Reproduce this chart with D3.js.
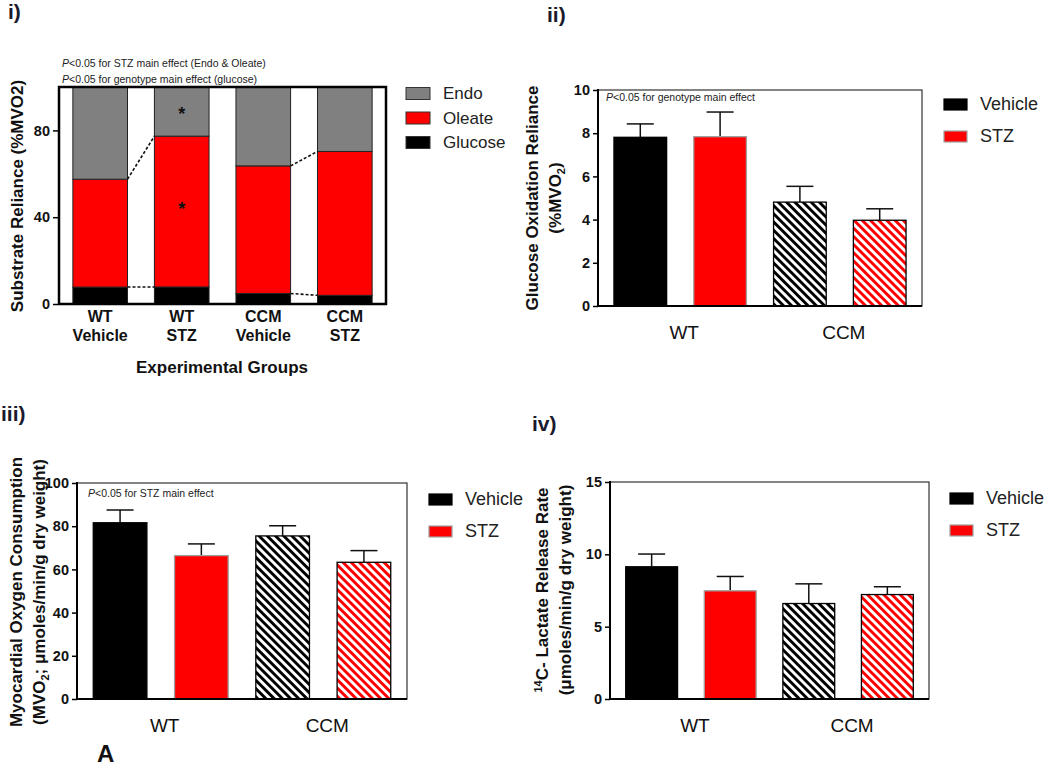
<!DOCTYPE html>
<html><head><meta charset="utf-8">
<script src="https://cdn.jsdelivr.net/npm/d3@7"></script>
<style>body{margin:0;background:#fff}svg{display:block;font-family:"Liberation Sans",Arial,sans-serif}</style>
</head><body><svg id="c" width="1050" height="767"></svg>
<script>
// ---- data ----
const groupsI = ["WT|Vehicle", "WT|STZ", "CCM|Vehicle", "CCM|STZ"];
const glucoseI = [7.8, 7.85, 4.85, 4.0];
const oleateI = [49.7, 69.5, 58.8, 66.3];
const endoI = [42.5, 22.65, 36.35, 29.7];
const seriesI = ["Glucose", "Oleate", "Endo"];
const ticksI = [0, 40, 80];

const barKeys = ["WT Vehicle", "WT STZ", "CCM Vehicle", "CCM STZ"];
const genotypes = ["WT", "CCM"];
const treatments = ["Vehicle", "STZ"];

const gluMean = [7.81, 7.84, 4.81, 3.97];
const gluErr = [0.62, 1.14, 0.73, 0.53];
const gluTicks = [0, 2, 4, 6, 8, 10];

const mvoMean = [81.6, 66.4, 75.5, 63.3];
const mvoErr = [5.9, 5.4, 4.7, 5.4];
const mvoTicks = [0, 20, 40, 60, 80, 100];

const lacMean = [9.14, 7.48, 6.6, 7.22];
const lacErr = [0.88, 0.99, 1.36, 0.54];
const lacTicks = [0, 5, 10, 15];

// ---- drawing ----
const svg = d3.select("#c");
const defs = svg.append("defs");
function hatch(id, color) {
  const p = defs.append("pattern").attr("id", id).attr("patternUnits", "userSpaceOnUse")
    .attr("width", 5.8).attr("height", 5.8).attr("patternTransform", "rotate(-45)");
  p.append("rect").attr("width", 5.8).attr("height", 5.8).attr("fill", "#fff");
  p.append("rect").attr("width", 2.9).attr("height", 5.8).attr("fill", color);
}
hatch("hb", "#000");
hatch("hr", "#ff0000");

const fills = ["#000", "#ff0000", "url(#hb)", "url(#hr)"];
const strokes = ["#000", "#a0a0a0", "#000", "#000"];

function label(t, x, y) {
  svg.append("text").attr("x", x).attr("y", y).attr("font-size", 21).attr("font-weight", "bold")
    .attr("fill", "#1a1a2e").text(t);
}

function yAxisLabel(lines, x, y, dy) {
  const t = svg.append("text").attr("transform", `translate(${x},${y}) rotate(-90)`)
    .attr("text-anchor", "middle").attr("font-size", 17).attr("font-weight", "bold").attr("fill", "#111");
  lines.forEach((l, i) => {
    const ts = t.append("tspan").attr("x", 0).attr("dy", i === 0 ? 0 : dy);
    l.forEach(seg => {
      const s = ts.append("tspan").text(seg.t);
      if (seg.sub) s.attr("font-size", 11).attr("dy", 4);
      if (seg.sup) s.attr("font-size", 11).attr("dy", -6);
      if (seg.after) s.attr("dy", seg.after);
    });
  });
}

function pNote(text, x, y) {
  const t = svg.append("text").attr("x", x).attr("y", y).attr("font-size", 10.5).attr("fill", "#222");
  t.append("tspan").attr("font-style", "italic").text("P");
  t.append("tspan").text(text);
}

function yTicks(g, y, ticks, x0) {
  const ax = g.append("g").attr("transform", `translate(${x0},0)`)
    .call(d3.axisLeft(y).tickValues(ticks).tickSize(5).tickPadding(3).tickFormat(d3.format("d")));
  ax.select(".domain").remove();
  ax.selectAll("line").attr("stroke", "#000").attr("stroke-width", 1.5);
  ax.selectAll("text").attr("font-size", 14.5).attr("font-weight", "bold").attr("fill", "#111")
    .attr("font-family", "Liberation Sans, Arial, sans-serif");
}

// ---- Panel i ----
(function () {
  const L = 59, R = 386, T = 87, B = 304;
  const x = d3.scaleBand().domain(groupsI).range([L, R]).paddingInner(0.33).paddingOuter(0.17);
  const y = d3.scaleLinear().domain([0, 100]).range([B, T]);
  const g = svg.append("g");
  const table = groupsI.map((k, i) => ({ key: k, Glucose: glucoseI[i], Oleate: oleateI[i], Endo: endoI[i] }));
  const stack = d3.stack().keys(seriesI)(table);
  const col = { Glucose: "#000", Oleate: "#ff0000", Endo: "#808080" };
  stack.forEach(s => {
    g.selectAll(null).data(s).join("rect")
      .attr("x", d => x(d.data.key)).attr("width", x.bandwidth())
      .attr("y", d => y(Math.min(d[1], 100))).attr("height", d => y(d[0]) - y(Math.min(d[1], 100)))
      .attr("fill", col[s.key]).attr("stroke", "#222").attr("stroke-width", 1);
  });
  // dashed connectors
  const pairs = [[0, 1], [2, 3]];
  pairs.forEach(([a, b]) => {
    [0, 1].forEach(level => {
      const va = stack[level][a][1], vb = stack[level][b][1];
      g.append("line").attr("x1", x(groupsI[a]) + x.bandwidth()).attr("x2", x(groupsI[b]))
        .attr("y1", y(va)).attr("y2", y(vb)).attr("stroke", "#111").attr("stroke-width", 1.6)
        .attr("stroke-dasharray", "3,2");
    });
  });
  // asterisks in WT STZ
  const cx = x(groupsI[1]) + x.bandwidth() / 2;
  [(stack[1][1][1] + 100) / 2, (stack[1][1][0] + stack[1][1][1]) / 2 + 2].forEach(v => {
    g.append("text").attr("x", cx).attr("y", y(v) + 8).attr("text-anchor", "middle")
      .attr("font-size", 18).attr("font-weight", "bold").attr("fill", "#111").text("*");
  });
  g.append("rect").attr("x", L).attr("y", T).attr("width", R - L).attr("height", B - T)
    .attr("fill", "none").attr("stroke", "#000").attr("stroke-width", 2.5);
  yTicks(g, y, ticksI, L - 1);
  groupsI.forEach(k => {
    const [a, b] = k.split("|");
    const t = g.append("text").attr("x", x(k) + x.bandwidth() / 2).attr("text-anchor", "middle")
      .attr("font-size", 16).attr("font-weight", "bold").attr("fill", "#111");
    t.append("tspan").attr("x", x(k) + x.bandwidth() / 2).attr("y", 322).text(a);
    t.append("tspan").attr("x", x(k) + x.bandwidth() / 2).attr("y", 341).text(b);
  });
  g.append("text").attr("x", 222).attr("y", 373).attr("text-anchor", "middle").attr("font-size", 17)
    .attr("font-weight", "bold").attr("fill", "#111").text("Experimental Groups");
  yAxisLabel([[{ t: "Substrate Reliance (%MVO2)" }]], 23, 196, 0);
  pNote("<0.05 for STZ main effect (Endo & Oleate)", 62, 67);
  pNote("<0.05 for genotype main effect (glucose)", 62, 83);
  // legend
  ["Endo", "Oleate", "Glucose"].forEach((k, i) => {
    g.append("rect").attr("x", 406).attr("y", 87.5 + i * 24.5).attr("width", 24).attr("height", 12)
      .attr("fill", col[k]).attr("stroke", "#333").attr("stroke-width", 1);
    g.append("text").attr("x", 443).attr("y", 99 + i * 24.5).attr("font-size", 17).attr("fill", "#222").text(k);
  });
  label("i)", 8, 19);
})();

// ---- generic bar panel ----
function barPanel(o) {
  const g = svg.append("g");
  const x = d3.scaleBand().domain(barKeys).range([o.L, o.R]).paddingInner(0.34).paddingOuter(0.2);
  const y = d3.scaleLinear().domain([0, o.max]).range([o.B, o.T]);
  g.append("rect").attr("x", o.L).attr("y", o.T).attr("width", o.R - o.L).attr("height", o.B - o.T)
    .attr("fill", "none").attr("stroke", "#333").attr("stroke-width", 1.2);
  barKeys.forEach((k, i) => {
    const cx = x(k) + x.bandwidth() / 2;
    const yt = y(o.mean[i] + o.err[i]);
    g.append("line").attr("x1", cx).attr("x2", cx).attr("y1", y(o.mean[i])).attr("y2", yt)
      .attr("stroke", "#111").attr("stroke-width", 1.5);
    g.append("line").attr("x1", cx - 13.5).attr("x2", cx + 13.5).attr("y1", yt).attr("y2", yt)
      .attr("stroke", "#111").attr("stroke-width", 1.5);
  });
  g.selectAll(null).data(barKeys).join("rect")
    .attr("x", d => x(d)).attr("width", x.bandwidth())
    .attr("y", (d, i) => y(o.mean[i])).attr("height", (d, i) => o.B - y(o.mean[i]))
    .attr("fill", (d, i) => fills[i]).attr("stroke", (d, i) => strokes[i]).attr("stroke-width", 1.3);
  g.append("line").attr("x1", o.L).attr("x2", o.L).attr("y1", o.T - 1).attr("y2", o.B + 1)
    .attr("stroke", "#000").attr("stroke-width", 2);
  g.append("line").attr("x1", o.L).attr("x2", o.R).attr("y1", o.B).attr("y2", o.B)
    .attr("stroke", "#000").attr("stroke-width", 2);
  yTicks(g, y, o.ticks, o.L);
  genotypes.forEach((gt, j) => {
    const a = x(barKeys[j * 2]), b = x(barKeys[j * 2 + 1]) + x.bandwidth();
    g.append("text").attr("x", (a + b) / 2 + 4).attr("y", o.B + 33).attr("text-anchor", "middle")
      .attr("font-size", 19).attr("fill", "#111").text(gt);
  });
  treatments.forEach((t, i) => {
    g.append("rect").attr("x", o.lx).attr("y", o.ly + i * 32).attr("width", 23).attr("height", 11)
      .attr("fill", fills[i]).attr("stroke", strokes[i]).attr("stroke-width", 1.2);
    g.append("text").attr("x", o.lx + 36).attr("y", o.ly + 11 + i * 32).attr("font-size", 18)
      .attr("fill", "#222").text(t);
  });
  return { x, y };
}

// ---- Panel ii ----
barPanel({ L: 598, R: 922, T: 90, B: 306, max: 10, mean: gluMean, err: gluErr, ticks: gluTicks, lx: 944, ly: 99 });
yAxisLabel([[{ t: "Glucose Oxidation Reliance" }], [{ t: "(%MVO" }, { t: "2", sub: true }, { t: ")", after: -4 }]], 538, 198, 23);
pNote("<0.05 for genotype main effect", 606, 101);
label("ii)", 547, 22);

// ---- Panel iii ----
barPanel({ L: 77, R: 407, T: 483, B: 699, max: 100, mean: mvoMean, err: mvoErr, ticks: mvoTicks, lx: 429, ly: 494 });
yAxisLabel([[{ t: "Myocardial Oxygen Consumption" }], [{ t: "(MVO" }, { t: "2", sub: true }, { t: "; \u03bcmoles/min/g dry weight)", after: -4 }]], 22, 592, 23);
pNote("<0.05 for STZ main effect", 88, 497);
label("iii)", 1, 421);
svg.append("text").attr("x", 97).attr("y", 762).attr("font-size", 24).attr("font-weight", "bold").attr("fill", "#111").text("A");

// ---- Panel iv ----
barPanel({ L: 610, R: 929, T: 482, B: 699, max: 15, mean: lacMean, err: lacErr, ticks: lacTicks, lx: 950, ly: 493 });
yAxisLabel([[{ t: "14", sup: true }, { t: "C- Lactate Release Rate", after: 6 }], [{ t: "(\u03bcmoles/min/g dry weight)" }]], 548, 590, 23);
label("iv)", 532, 431);
</script></body></html>
